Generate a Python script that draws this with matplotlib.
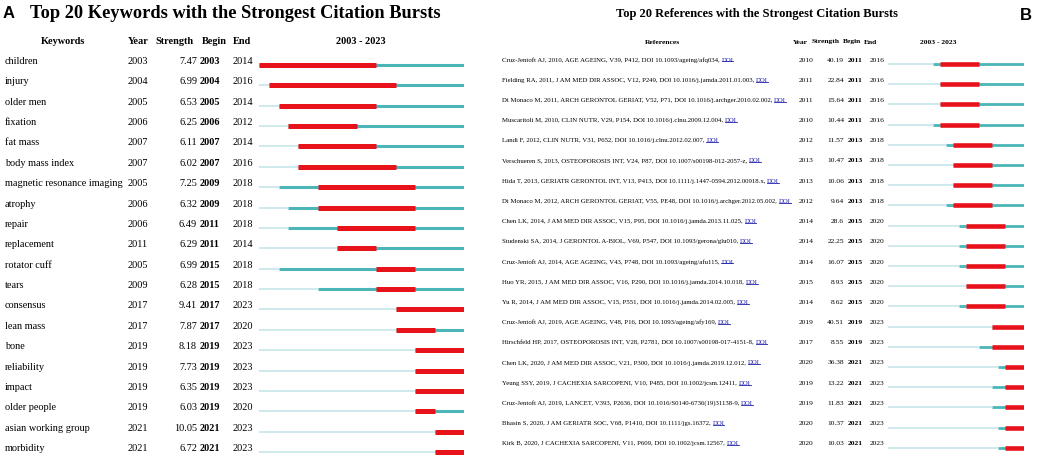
import matplotlib
matplotlib.use("Agg")
import matplotlib.pyplot as plt
from matplotlib import transforms
from matplotlib.lines import Line2D

plt.rcParams['font.family'] = ['Liberation Serif', 'DejaVu Serif']

# Panel A: keywords
kw_names = ["children", "injury", "older men", "fixation", "fat mass", "body mass index",
            "magnetic resonance imaging", "atrophy", "repair", "replacement", "rotator cuff",
            "tears", "consensus", "lean mass", "bone", "reliability", "impact", "older people",
            "asian working group", "morbidity"]
kw_year = [2003, 2004, 2005, 2006, 2007, 2007, 2005, 2006, 2006, 2011,
           2005, 2009, 2017, 2017, 2019, 2019, 2019, 2019, 2021, 2021]
kw_strength = ["7.47", "6.99", "6.53", "6.25", "6.11", "6.02", "7.25", "6.32", "6.49", "6.29",
               "6.99", "6.28", "9.41", "7.87", "8.18", "7.73", "6.35", "6.03", "10.05", "6.72"]
kw_begin = [2003, 2004, 2005, 2006, 2007, 2007, 2009, 2009, 2011, 2011,
            2015, 2015, 2017, 2017, 2019, 2019, 2019, 2019, 2021, 2021]
kw_end = [2014, 2016, 2014, 2012, 2014, 2016, 2018, 2018, 2018, 2014,
          2018, 2018, 2023, 2020, 2023, 2023, 2023, 2020, 2023, 2023]

# Panel B: references
ref_labels = [
    "Cruz-Jentoft AJ, 2010, AGE AGEING, V39, P412, DOI 10.1093/ageing/afq034, ",
    "Fielding RA, 2011, J AM MED DIR ASSOC, V12, P249, DOI 10.1016/j.jamda.2011.01.003, ",
    "Di Monaco M, 2011, ARCH GERONTOL GERIAT, V52, P71, DOI 10.1016/j.archger.2010.02.002, ",
    "Muscaritoli M, 2010, CLIN NUTR, V29, P154, DOI 10.1016/j.clnu.2009.12.004, ",
    "Landi F, 2012, CLIN NUTR, V31, P652, DOI 10.1016/j.clnu.2012.02.007, ",
    "Verschueren S, 2013, OSTEOPOROSIS INT, V24, P87, DOI 10.1007/s00198-012-2057-z, ",
    "Hida T, 2013, GERIATR GERONTOL INT, V13, P413, DOI 10.1111/j.1447-0594.2012.00918.x, ",
    "Di Monaco M, 2012, ARCH GERONTOL GERIAT, V55, PE48, DOI 10.1016/j.archger.2012.05.002, ",
    "Chen LK, 2014, J AM MED DIR ASSOC, V15, P95, DOI 10.1016/j.jamda.2013.11.025, ",
    "Studenski SA, 2014, J GERONTOL A-BIOL, V69, P547, DOI 10.1093/gerona/glu010, ",
    "Cruz-Jentoft AJ, 2014, AGE AGEING, V43, P748, DOI 10.1093/ageing/afu115, ",
    "Huo YR, 2015, J AM MED DIR ASSOC, V16, P290, DOI 10.1016/j.jamda.2014.10.018, ",
    "Yu R, 2014, J AM MED DIR ASSOC, V15, P551, DOI 10.1016/j.jamda.2014.02.005, ",
    "Cruz-Jentoft AJ, 2019, AGE AGEING, V48, P16, DOI 10.1093/ageing/afy169, ",
    "Hirschfeld HP, 2017, OSTEOPOROSIS INT, V28, P2781, DOI 10.1007/s00198-017-4151-8, ",
    "Chen LK, 2020, J AM MED DIR ASSOC, V21, P300, DOI 10.1016/j.jamda.2019.12.012, ",
    "Yeung SSY, 2019, J CACHEXIA SARCOPENI, V10, P485, DOI 10.1002/jcsm.12411, ",
    "Cruz-Jentoft AJ, 2019, LANCET, V393, P2636, DOI 10.1016/S0140-6736(19)31138-9, ",
    "Bhasin S, 2020, J AM GERIATR SOC, V68, P1410, DOI 10.1111/jgs.16372, ",
    "Kirk B, 2020, J CACHEXIA SARCOPENI, V11, P609, DOI 10.1002/jcsm.12567, ",
]
ref_year = [2010, 2011, 2011, 2010, 2012, 2013, 2013, 2012, 2014, 2014,
            2014, 2015, 2014, 2019, 2017, 2020, 2019, 2019, 2020, 2020]
ref_strength = ["40.19", "22.84", "15.64", "10.44", "11.57", "10.47", "10.06", "9.64", "28.6", "22.25",
                "16.07", "8.93", "8.62", "40.51", "8.55", "36.38", "13.22", "11.83", "10.37", "10.03"]
ref_begin = [2011, 2011, 2011, 2011, 2013, 2013, 2013, 2013, 2015, 2015,
             2015, 2015, 2015, 2019, 2019, 2021, 2021, 2021, 2021, 2021]
ref_end = [2016, 2016, 2016, 2016, 2018, 2018, 2018, 2018, 2020, 2020,
           2020, 2020, 2020, 2023, 2023, 2023, 2023, 2023, 2023, 2023]

START, STOP = 2003, 2023
RED = '#e8121b'
TEAL = '#4bb5b8'
LIGHT = '#cfe9ec'
LINK = '#1a1aaa'

W, H = 1052, 459
fig = plt.figure(figsize=(W / 100, H / 100), dpi=100)


def timeline_axes(x0, x1, line0, step):
    ax = fig.add_axes([x0 / W, 0, (x1 - x0) / W, 1])
    ax.set_xlim(START, STOP + 1)
    ax.set_ylim((H - line0) / step, -line0 / step)
    ax.axis('off')
    return ax


def draw_bursts(ax, years, begins, ends, lw):
    rows = list(range(len(years)))
    ax.hlines(rows, START, years, colors=LIGHT, linewidth=lw[0])
    ax.hlines(rows, years, STOP + 1, colors=TEAL, linewidth=lw[1])
    ax.hlines(rows, begins, [e + 1 for e in ends], colors=RED, linewidth=lw[2])


# ---------- panel A ----------
stepA = 20.37
axA = timeline_axes(259, 464, 65, stepA)
draw_bursts(axA, kw_year, kw_begin, kw_end, (1.4, 2.2, 3.6))
trA = transforms.blended_transform_factory(fig.transFigure, axA.transData)
fsA = 7.4
for i in range(len(kw_names)):
    y = i - 3.5 / stepA
    axA.text(5 / W, y, kw_names[i], transform=trA, size=fsA, va='center')
    axA.text(128 / W, y, str(kw_year[i]), transform=trA, size=fsA, va='center')
    axA.text(197 / W, y, kw_strength[i], transform=trA, size=fsA, va='center', ha='right')
    axA.text(200 / W, y, str(kw_begin[i]), transform=trA, size=fsA, va='center', weight='bold')
    axA.text(233 / W, y, str(kw_end[i]), transform=trA, size=fsA, va='center')

hy = 1 - 41 / H
for x, s, ha in [(63, "Keywords", 'center'), (128, "Year", 'left'), (174, "Strength", 'center'),
                 (214, "Begin", 'center'), (242, "End", 'center'), (361, "2003 - 2023", 'center')]:
    fig.text(x / W, hy, s, ha=ha, va='center', size=fsA, weight='bold')

fig.text(3 / W, 1 - 13 / H, "A", family='Liberation Sans', weight='bold', size=12, va='center')
fig.text(30 / W, 1 - 13 / H, "Top 20 Keywords with the Strongest Citation Bursts",
         weight='bold', size=13.2, va='center')

# ---------- panel B ----------
stepB = 20.2
axB = timeline_axes(888, 1024, 64, stepB)
draw_bursts(axB, ref_year, ref_begin, ref_end, (1.4, 2.0, 3.3))
trB = transforms.blended_transform_factory(fig.transFigure, axB.transData)
fsB = 5.4
fsRef = 4.9
doi_texts = []
for i in range(len(ref_labels)):
    y = i - 4 / stepB
    t = axB.text(502 / W, y, ref_labels[i], transform=trB, size=fsRef, va='center')
    d = axB.annotate("DOI", xy=(1, 0.5), xycoords=t, size=fsRef, va='center', ha='left', color=LINK)
    doi_texts.append(d)
    axB.text(799 / W, y, str(ref_year[i]), transform=trB, size=fsB, va='center')
    axB.text(844 / W, y, ref_strength[i], transform=trB, size=fsB, va='center', ha='right')
    axB.text(848 / W, y, str(ref_begin[i]), transform=trB, size=fsB, va='center', weight='bold')
    axB.text(870 / W, y, str(ref_end[i]), transform=trB, size=fsB, va='center')

hy = 1 - 42 / H
for x, s, ha in [(662, "References", 'center'), (793, "Year", 'left'), (826, "Strength", 'center'),
                 (852, "Begin", 'center'), (870, "End", 'center'), (938, "2003 - 2023", 'center')]:
    fig.text(x / W, hy, s, ha=ha, va='center', size=fsB, weight='bold')

fig.text(757 / W, 1 - 14 / H, "Top 20 References with the Strongest Citation Bursts",
         weight='bold', size=9.0, ha='center', va='center')
fig.text(1026 / W, 1 - 15 / H, "B", family='Liberation Sans', weight='bold', size=12,
         ha='center', va='center')

# underline the DOI links
fig.canvas.draw()
r = fig.canvas.get_renderer()
for d in doi_texts:
    bb = d.get_window_extent(r)
    yline = bb.y0 + 0.22 * bb.height
    fig.add_artist(Line2D([bb.x0 / W, bb.x1 / W], [yline / H, yline / H],
                          color=LINK, linewidth=0.6, transform=fig.transFigure))

fig.savefig("out.png", dpi=100)
